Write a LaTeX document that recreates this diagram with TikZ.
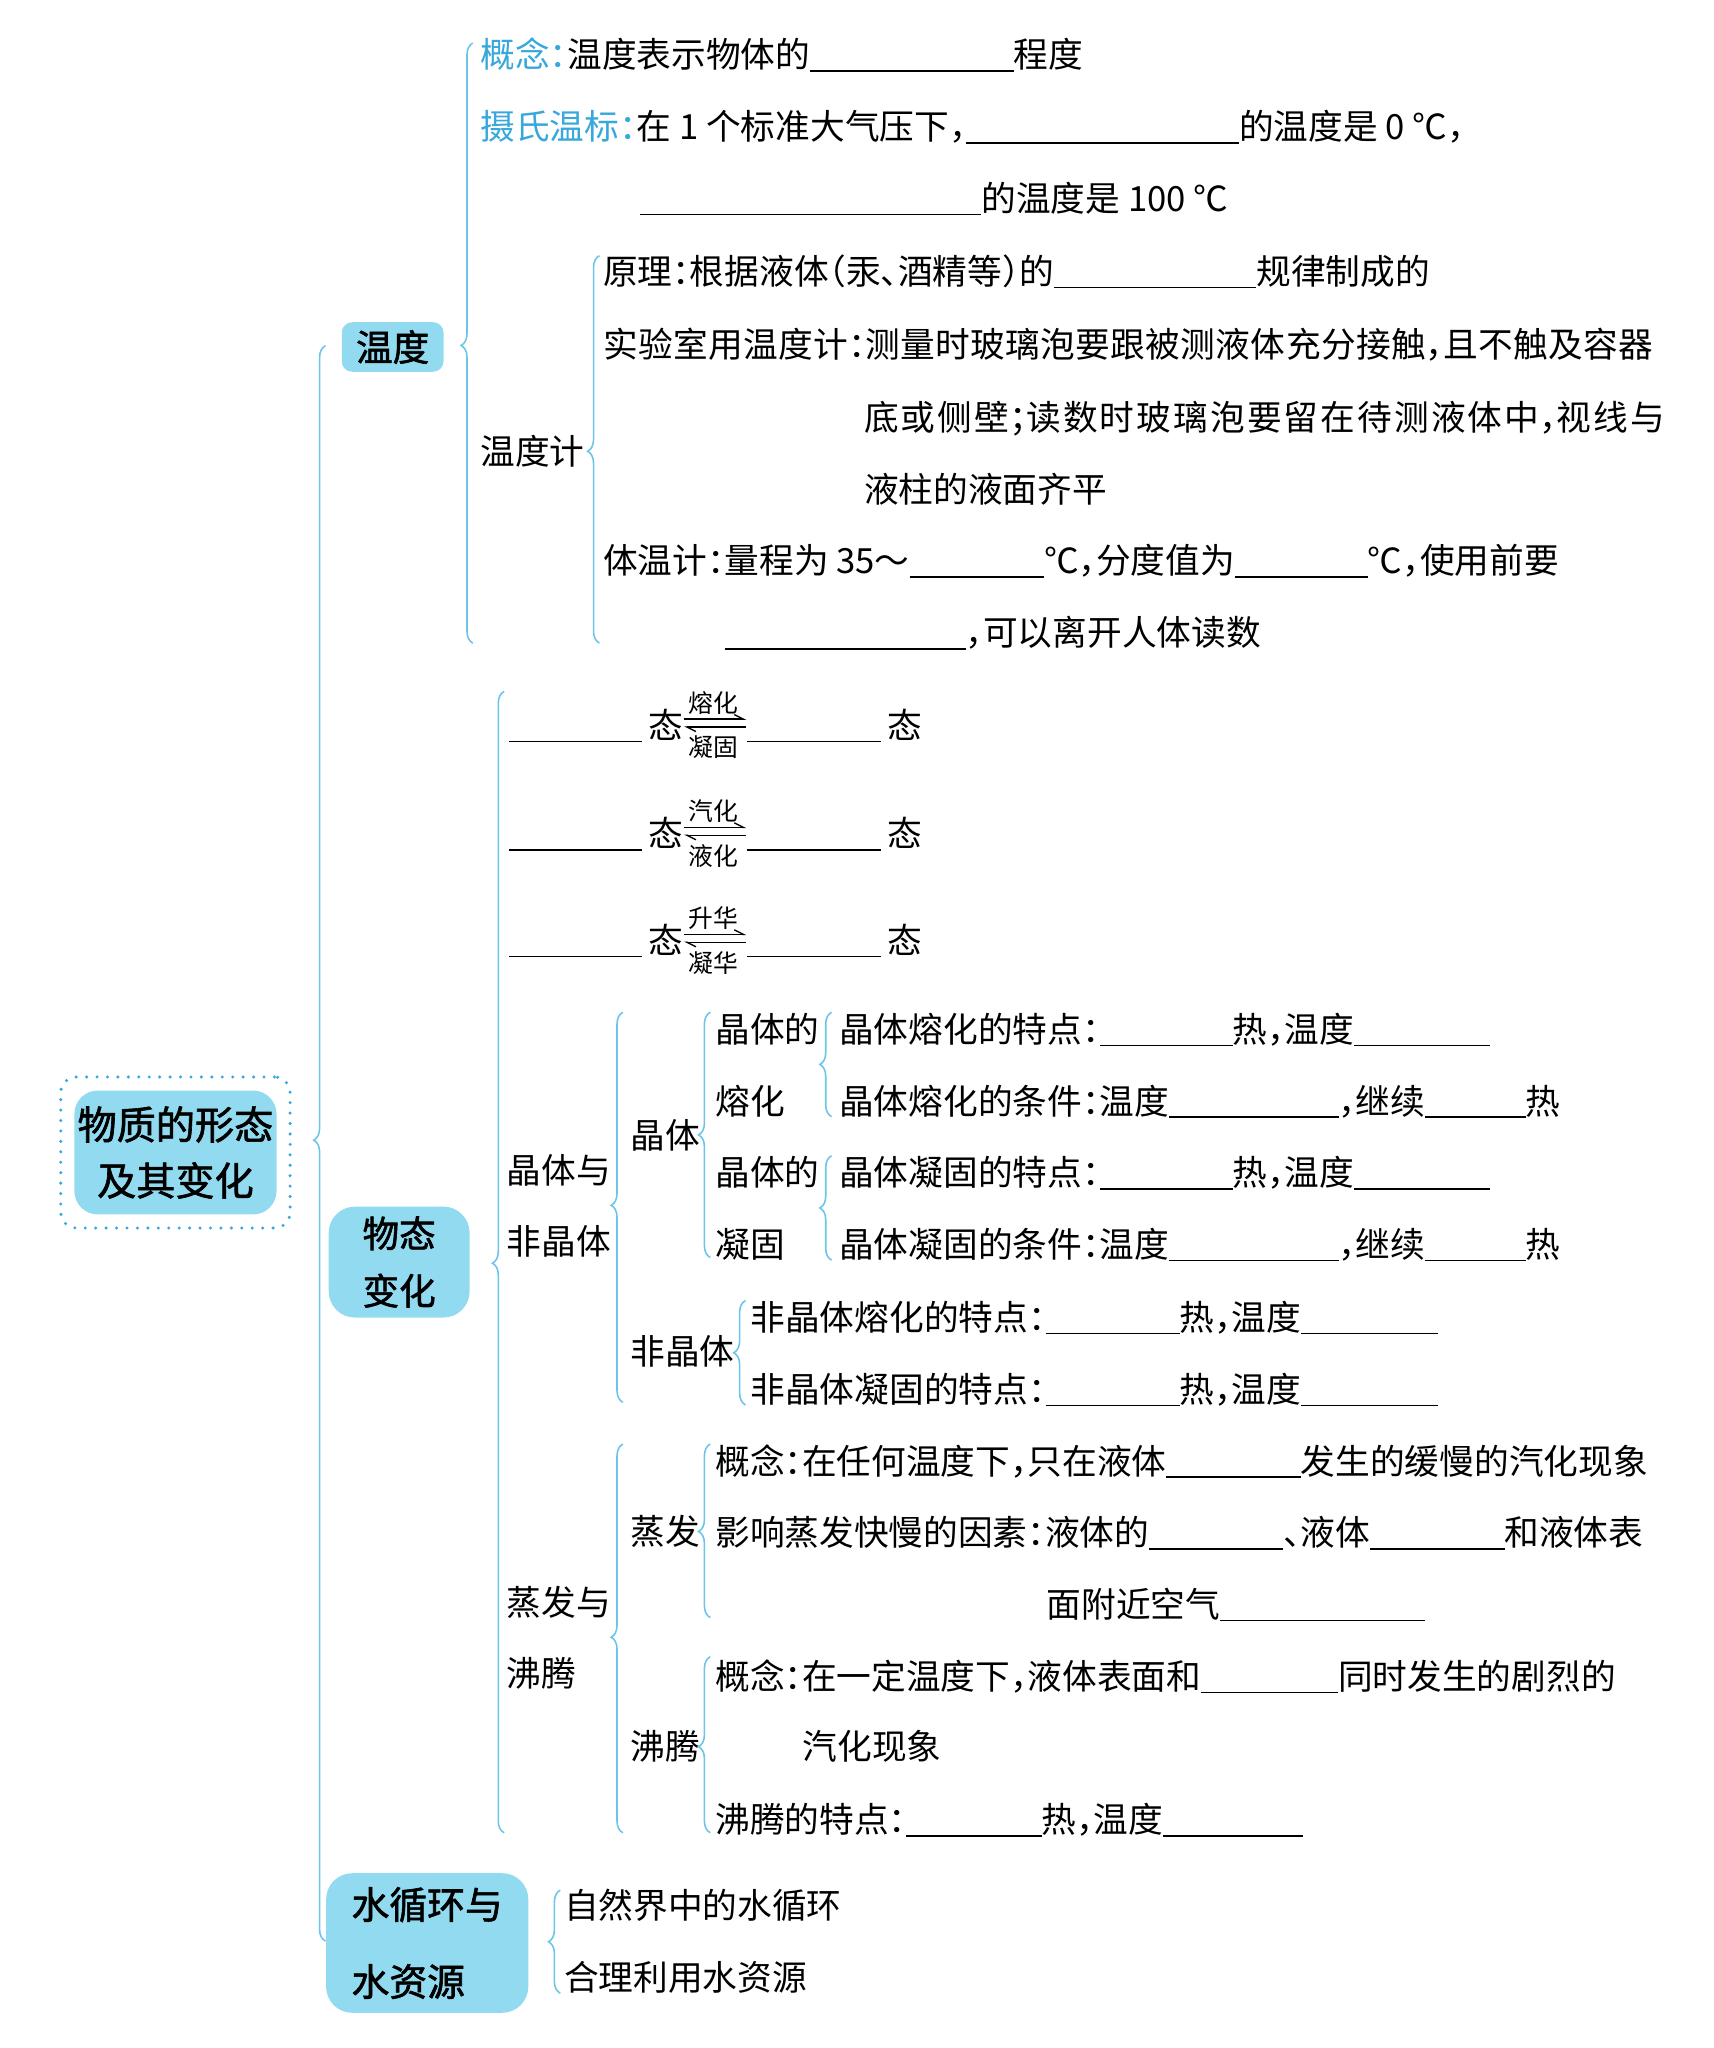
\documentclass[tikz,border=0pt]{standalone}
\usepackage{fontspec}
\setmainfont{Noto Sans CJK SC}
\newfontfamily\topicfont{Noto Sans CJK SC}[FakeBold=1.6]
\usepackage{tikz}
\usetikzlibrary{arrows.meta,positioning,fit,calc,decorations.pathreplacing}

\definecolor{bracecol}{HTML}{6CC4E8}
\definecolor{boxcol}{HTML}{92DAF0}
\definecolor{keycol}{HTML}{38A8DC}

\newlength{\ulen}
\setlength{\ulen}{0.5pt}
\newcommand{\fillin}[1]{\rule[-1.5pt]{#1\ulen}{0.6pt}}
\newcommand{\mao}{\makebox[.5em][l]{：}}
\newcommand{\dou}{\makebox[.5em][l]{，}}
\newcommand{\fen}{\makebox[.5em][l]{；}}
\newcommand{\dun}{\makebox[.5em][l]{、}}
\newcommand{\lkuo}{\makebox[.5em][r]{（}}
\newcommand{\rkuo}{\makebox[.5em][l]{）}}

\begin{document}
\begin{tikzpicture}[x=0.5pt,y=-0.5pt,
  txt/.style={anchor=base west,inner sep=0pt,yshift=-5pt,font=\fontsize{13.3pt}{16pt}\selectfont},
  lbl/.style={anchor=west,inner sep=0pt,align=left,font=\fontsize{13.3pt}{27.5pt}\selectfont},
  small lbl/.style={inner sep=0pt,font=\fontsize{9.5pt}{10pt}\selectfont},
  topic/.style={fill=boxcol,rounded corners=#1,inner sep=0pt,align=center},
  dotframe/.style={draw=keycol,rounded corners=6pt,line width=1.3pt,dash pattern=on 0pt off 4pt,line cap=round},
  brace line/.style={draw=bracecol,line width=0.6pt,decorate,decoration={brace,amplitude=4.5pt,aspect=#1}},
  brace line/.default=0.5,
  harp/.style={line width=0.5pt,-{Straight Barb[left,length=3.5pt,width=3.5pt]}}]
\useasboundingbox (0,0) rectangle (1313.2,1570);

% topic boxes
\node[topic=9pt,minimum width=77.5pt,minimum height=47.5pt,font=\topicfont\fontsize{15pt}{21.5pt}\selectfont] (root) at (134.5,883.5) {物质的形态\\及其变化};
\node[dotframe,fit=(root),inner sep=5pt] (rootframe) {};
\node[topic=4pt,minimum width=39pt,minimum height=19pt,font=\topicfont\fontsize{14pt}{16pt}\selectfont] (wendu) at (301,266) {温度};
\node[topic=10pt,minimum width=54pt,minimum height=42.5pt,font=\topicfont\fontsize{14pt}{22pt}\selectfont] (wutai) at (306,967.5) {物态\\变化};
\node[topic=10pt,minimum width=77.5pt,minimum height=53.5pt,align=left,font=\topicfont\fontsize{14.5pt}{29.5pt}\selectfont] (shui) at (327.5,1489.5) {水循环与\\水资源};

% temperature
\node[txt] (gn) at (368,42) {\textcolor{keycol}{概念\mao}温度表示物体的\fillin{156}程度};
\node[txt] (sw1) at (368,97) {\textcolor{keycol}{摄氏温标\mao}在 1 个标准大气压下\dou\fillin{209}的温度是 0 ℃\dou};
\node[txt] (sw2) at (490,152) {\fillin{262}的温度是 100 ℃};
\node[lbl] (wdj) at (368,346) {温度计};
\node[txt] (yl) at (462,208) {原理\mao 根据液体\lkuo 汞\dun 酒精等\rkuo 的\fillin{155}规律制成的};
\node[txt] (sy1) at (462,264) {\addfontfeature{LetterSpace=1}实验室用温度计\mao 测量时玻璃泡要跟被测液体充分接触\dou 且不触及容器};
\node[txt] (sy2) at (662,320) {\addfontfeature{LetterSpace=6}底或侧壁\fen 读数时玻璃泡要留在待测液体中\dou 视线与};
\node[txt] (sy3) at (662,375) {液柱的液面齐平};
\node[txt] (tw1) at (462,430) {体温计\mao 量程为 35～\fillin{103}℃\dou 分度值为\fillin{102}℃\dou 使用前要};
\node[txt] (tw2) at (555,485) {\fillin{185}\dou 可以离开人体读数};

% state changes
\node[txt] (p1l) at (390,556) {\fillin{102}\hspace{2.5pt}态};
\node[txt] (p1r) at (572,556) {\fillin{103}\hspace{2.5pt}态};
\node[small lbl] (p1a) at (547,539) {熔化};
\node[small lbl] (p1b) at (547,573) {凝固};
\node[txt] (p2l) at (390,639) {\fillin{102}\hspace{2.5pt}态};
\node[txt] (p2r) at (572,639) {\fillin{103}\hspace{2.5pt}态};
\node[small lbl] (p2a) at (547,622) {汽化};
\node[small lbl] (p2b) at (547,656) {液化};
\node[txt] (p3l) at (390,721) {\fillin{102}\hspace{2.5pt}态};
\node[txt] (p3r) at (572,721) {\fillin{103}\hspace{2.5pt}态};
\node[small lbl] (p3a) at (547,704) {升华};
\node[small lbl] (p3b) at (547,738) {凝华};
\draw[harp] ([yshift=2.5pt]p1l.east) -- ([yshift=2.5pt]p1r.west);
\draw[harp] ([yshift=-0.5pt]p1r.west) -- ([yshift=-0.5pt]p1l.east);
\draw[harp] ([yshift=2.5pt]p2l.east) -- ([yshift=2.5pt]p2r.west);
\draw[harp] ([yshift=-0.5pt]p2r.west) -- ([yshift=-0.5pt]p2l.east);
\draw[harp] ([yshift=2.5pt]p3l.east) -- ([yshift=2.5pt]p3r.west);
\draw[harp] ([yshift=-0.5pt]p3r.west) -- ([yshift=-0.5pt]p3l.east);

% crystals
\node[lbl] (jtf) at (388,924.5) {晶体与\\非晶体};
\node[lbl] (jt) at (483,870) {晶体};
\node[lbl] (jtr) at (548,816.5) {晶体的\\熔化};
\node[lbl] (jtn) at (548,926.5) {晶体的\\凝固};
\node[txt] (c1) at (643,789) {晶体熔化的特点\mao\fillin{102}热\dou 温度\fillin{104}};
\node[txt] (c2) at (643,844) {晶体熔化的条件\mao 温度\fillin{130}\dou 继续\fillin{77}热};
\node[txt] (c3) at (643,899) {晶体凝固的特点\mao\fillin{102}热\dou 温度\fillin{104}};
\node[txt] (c4) at (643,954) {晶体凝固的条件\mao 温度\fillin{130}\dou 继续\fillin{77}热};
\node[lbl] (fjt) at (483,1036) {非晶体};
\node[txt] (a1) at (575,1010) {非晶体熔化的特点\mao\fillin{103}热\dou 温度\fillin{105}};
\node[txt] (a2) at (575,1065) {非晶体凝固的特点\mao\fillin{103}热\dou 温度\fillin{105}};

% evaporation and boiling
\node[lbl] (zf) at (388,1255.5) {蒸发与\\沸腾};
\node[lbl] (zfa) at (483,1174) {蒸发};
\node[txt] (e1) at (548,1120) {概念\mao 在任何温度下\dou 只在液体\fillin{103}发生的缓慢的汽化现象};
\node[txt] (e2) at (548,1175) {影响蒸发快慢的因素\mao 液体的\fillin{103}\dun 液体\fillin{103}和液体表};
\node[txt] (e3) at (802,1230) {面附近空气\fillin{157}};
\node[lbl] (ft) at (483,1339) {沸腾};
\node[txt] (b1) at (548,1285) {概念\mao 在一定温度下\dou 液体表面和\fillin{105}同时发生的剧烈的};
\node[txt] (b2) at (615,1339) {汽化现象};
\node[txt] (b3) at (548,1395) {沸腾的特点\mao\fillin{104}热\dou 温度\fillin{107}};

% water
\node[txt] (w1) at (432,1461) {自然界中的水循环};
\node[txt] (w2) at (432,1516) {合理利用水资源};

% braces
\coordinate (root-top) at (249.5,265);   \coordinate (root-bot) at (249.5,1488);
\coordinate (wendu-top) at (362.5,33);   \coordinate (wendu-bot) at (362.5,493);
\coordinate (wdj-top) at (459.5,196);    \coordinate (wdj-bot) at (459.5,493);
\coordinate (wutai-top) at (386.5,530);  \coordinate (wutai-bot) at (386.5,1405);
\coordinate (jtf-top) at (477.5,776);    \coordinate (jtf-bot) at (477.5,1075);
\coordinate (jt-top) at (544.5,776);     \coordinate (jt-bot) at (544.5,964);
\coordinate (jtr-top) at (637.5,776);    \coordinate (jtr-bot) at (637.5,856);
\coordinate (jtn-top) at (637.5,886);    \coordinate (jtn-bot) at (637.5,966);
\coordinate (fjt-top) at (571.5,997);    \coordinate (fjt-bot) at (571.5,1077);
\coordinate (zf-top) at (477.5,1107);    \coordinate (zf-bot) at (477.5,1405);
\coordinate (zfa-top) at (544.5,1107);   \coordinate (zfa-bot) at (544.5,1240);
\coordinate (ft-top) at (544.5,1270);    \coordinate (ft-bot) at (544.5,1405);
\coordinate (shui-top) at (429.5,1449);  \coordinate (shui-bot) at (429.5,1528);
\draw[brace line=0.502] (root-bot) -- (root-top);
\draw[brace line=0.496] (wendu-bot) -- (wendu-top);
\draw[brace line=0.495] (wdj-bot) -- (wdj-top);
\draw[brace line=0.499] (wutai-bot) -- (wutai-top);
\draw[brace line=0.505] (jtf-bot) -- (jtf-top);
\draw[brace line] (jt-bot) -- (jt-top);
\draw[brace line] (jtr-bot) -- (jtr-top);
\draw[brace line] (jtn-bot) -- (jtn-top);
\draw[brace line] (fjt-bot) -- (fjt-top);
\draw[brace line=0.503] (zf-bot) -- (zf-top);
\draw[brace line=0.496] (zfa-bot) -- (zfa-top);
\draw[brace line=0.489] (ft-bot) -- (ft-top);
\draw[brace line] (shui-bot) -- (shui-top);
\end{tikzpicture}
\end{document}
